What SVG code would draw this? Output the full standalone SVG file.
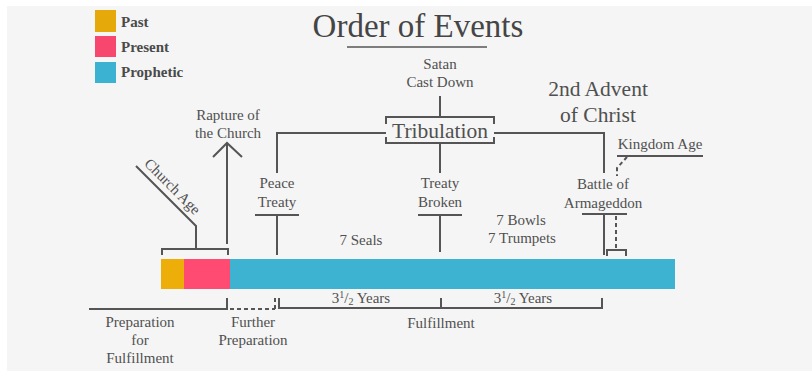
<svg xmlns="http://www.w3.org/2000/svg" width="812" height="371" viewBox="0 0 812 371">
<defs>
<style>
.t{font-family:"Liberation Serif","DejaVu Serif",serif;font-size:15px;fill:#505050;text-anchor:middle}
.lg{font-family:"Liberation Serif","DejaVu Serif",serif;font-size:15px;font-weight:bold;fill:#4a4a4a}
.ln{fill:none;stroke:#555;stroke-width:2}
.dash{fill:none;stroke:#555;stroke-width:2;stroke-dasharray:4 3}
</style>
</defs>
<rect x="0" y="0" width="812" height="371" fill="#ffffff"/>
<rect x="7" y="6" width="805" height="365" fill="#f5f5f5"/>
<g id="legend">
<rect x="95" y="10" width="21" height="22" fill="#e5aa0a"/>
<rect x="95" y="36" width="21" height="21" fill="#f7476f"/>
<rect x="95" y="62" width="21" height="21" fill="#3bb2d2"/>
<text class="lg" x="121" y="27">Past</text>
<text class="lg" x="121" y="52">Present</text>
<text class="lg" x="121" y="77">Prophetic</text>
</g>
<g id="title">
<text class="t" x="418" y="37" style="font-size:33px;fill:#454545">Order of Events</text>
<line x1="347" y1="47" x2="487" y2="47" stroke="#555" stroke-width="1.6"/>
</g>
<g id="timeline">
<rect x="161" y="259" width="23" height="30" fill="#edae0a"/>
<rect x="184" y="259" width="46" height="30" fill="#ff4a72"/>
<rect x="230" y="259" width="445" height="30" fill="#3db2d1"/>
</g>
<g id="connectors">
<path class="ln" d="M136 166 L196 226 L196 249 M162 255 L162 249 L228 249 L228 255"/>
<path class="ln" d="M227 244 L227 143 M213 157 L227 143 L242 157"/>
<path class="ln" d="M440 96 L440 117 M386 124 L386 117 L494 117 L494 124 M386 137 L386 143 L494 143 L494 137"/>
<path class="ln" d="M277 173 L277 133 L386 133 M494 133 L604 133 L604 173"/>
<path class="ln" d="M440 143 L440 173"/>
<path class="ln" d="M255 215 L299 215 M277 215 L277 255"/>
<path class="ln" d="M418 215 L462 215 M440 215 L440 252"/>
<path class="ln" d="M582 214 L627 214 M604 214 L604 255"/>
<path class="dash" d="M616 216 L616 250"/>
<path class="ln" d="M607 256 L607 250 L626 250 L626 256"/>
<path class="ln" d="M617 156 L703 156"/>
<path class="dash" d="M627 157 L617 168 L617 176"/>
<path class="ln" d="M89 309 L227 309 L227 298"/>
<path class="dash" d="M230 309 L275 309 M275 309 L275 298"/>
<path class="ln" d="M279 298 L279 308 L602 308 L602 298 M441 298 L441 308"/>
</g>
<g id="labels">
<text class="t" x="440" y="69">Satan</text>
<text class="t" x="440" y="87">Cast Down</text>
<text class="t" x="440" y="138" style="font-size:21.5px">Tribulation</text>
<text class="t" x="598" y="96" style="font-size:21.5px">2nd Advent</text>
<text class="t" x="598" y="122" style="font-size:21.5px">of Christ</text>
<text class="t" x="228" y="120">Rapture of</text>
<text class="t" x="228" y="138">the Church</text>
<text class="t" transform="translate(169 190) rotate(45)">Church Age</text>
<text class="t" x="277" y="188">Peace</text>
<text class="t" x="277" y="207">Treaty</text>
<text class="t" x="440" y="188">Treaty</text>
<text class="t" x="440" y="207">Broken</text>
<text class="t" x="603" y="189">Battle of</text>
<text class="t" x="603" y="208">Armageddon</text>
<text class="t" x="660" y="149">Kingdom Age</text>
<text class="t" x="361" y="245">7 Seals</text>
<text class="t" x="521" y="225">7 Bowls</text>
<text class="t" x="522" y="243">7 Trumpets</text>
<text class="t" x="361" y="303">3<tspan font-size="10" dy="-5">1</tspan><tspan dy="5">/</tspan><tspan font-size="10" dy="2">2</tspan><tspan dy="-2"> Years</tspan></text>
<text class="t" x="523" y="303">3<tspan font-size="10" dy="-5">1</tspan><tspan dy="5">/</tspan><tspan font-size="10" dy="2">2</tspan><tspan dy="-2"> Years</tspan></text>
<text class="t" x="140" y="327">Preparation</text>
<text class="t" x="140" y="345">for</text>
<text class="t" x="140" y="363">Fulfillment</text>
<text class="t" x="253" y="327">Further</text>
<text class="t" x="253" y="345">Preparation</text>
<text class="t" x="441" y="328">Fulfillment</text>
</g>
</svg>
